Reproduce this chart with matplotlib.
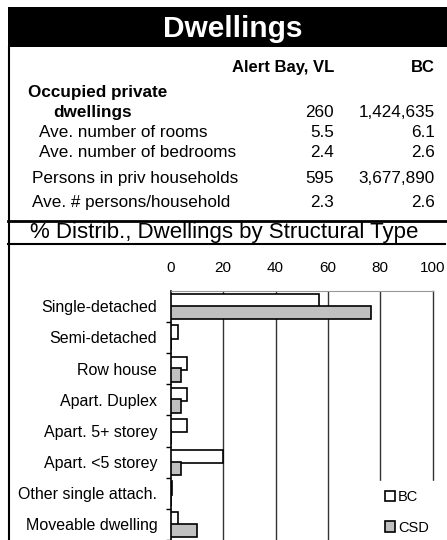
import matplotlib
matplotlib.use("Agg")
import matplotlib.pyplot as plt
from matplotlib.patches import Rectangle, Patch
from matplotlib.lines import Line2D

plt.rcParams['font.family'] = ['Liberation Sans', 'DejaVu Sans']

# table data
row_labels = ["Occupied private", "dwellings", "Ave. number of rooms", "Ave. number of bedrooms",
              "Persons in priv households", "Ave. # persons/household"]
local_vals = ["", "260", "5.5", "2.4", "595", "2.3"]
bc_vals = ["", "1,424,635", "6.1", "2.6", "3,677,890", "2.6"]

# chart data
categories = ["Single-detached", "Semi-detached", "Row house", "Apart. Duplex",
              "Apart. 5+ storey", "Apart. <5 storey", "Other single attach.", "Moveable dwelling"]
bc_pct = [56.5, 2.9, 6.1, 6.1, 6.4, 19.9, 0.4, 2.9]
csd_pct = [76.5, 0, 3.9, 3.9, 0, 3.9, 0, 9.9]
x_ticks = [0, 20, 40, 60, 80, 100]

W, H = 447, 540
fig = plt.figure(figsize=(W / 100, H / 100), dpi=100)

def fx(px):
    return px / W

def fy(py):
    return 1 - py / H

# header
fig.patches.append(Rectangle((fx(8), fy(47)), fx(W - 8), 40 / H, transform=fig.transFigure,
                             facecolor="black", edgecolor="none"))
fig.text(fx(232.5), fy(37), "Dwellings", color="white", fontsize=21.5, fontweight="bold",
         ha="center", va="baseline")

# frame lines
fig.lines.append(Line2D([fx(8.5), fx(8.5)], [fy(47), 0], transform=fig.transFigure, color="black", lw=1.5))
fig.lines.append(Line2D([fx(8), 1], [fy(220.5), fy(220.5)], transform=fig.transFigure, color="black", lw=2))
fig.lines.append(Line2D([fx(8), fx(445)], [fy(244), fy(244)], transform=fig.transFigure, color="black", lw=1.5))

# table
fig.text(fx(334), fy(71.7), "Alert Bay, VL", fontsize=12, fontweight="bold", ha="right", va="baseline")
fig.text(fx(435), fy(71.7), "BC", fontsize=12, fontweight="bold", ha="right", va="baseline")
row_y = [97, 117.3, 137.3, 156.7, 182.7, 206.7]
row_x = [28.3, 53.3, 39.3, 39.3, 31.7, 31.7]
for i, lab in enumerate(row_labels):
    bold = "bold" if i < 2 else "normal"
    fig.text(fx(row_x[i]), fy(row_y[i]), lab, fontsize=12.3, fontweight=bold, ha="left", va="baseline")
    fig.text(fx(334), fy(row_y[i]), local_vals[i], fontsize=12.3, ha="right", va="baseline")
    fig.text(fx(435), fy(row_y[i]), bc_vals[i], fontsize=12.3, ha="right", va="baseline")

fig.text(fx(224), fy(232.5), "% Distrib., Dwellings by Structural Type", fontsize=16,
         ha="center", va="center")

# bar chart
ax = fig.add_axes([fx(170.7), 0, fx(432.7) - fx(170.7), fy(290.7)])
n = len(categories)
pos = list(range(n))
h = 0.43
ax.barh([p - 0.17 for p in pos], bc_pct, height=h, color="white", edgecolor="black", lw=1.2, label="BC", zorder=3)
ax.barh([p + 0.2 for p in pos], csd_pct, height=h, color="#c0c0c0", edgecolor="black", lw=1.2, label="CSD", zorder=3)

ax.set_xlim(0, 100)
ax.set_ylim(n - 0.5, -0.5)
ax.set_xticks(x_ticks)
ax.xaxis.tick_top()
ax.tick_params(axis="x", length=0, pad=11, labelsize=11)
ax.set_yticks(pos)
ax.set_yticklabels(categories)
ax.tick_params(axis="y", which="major", length=0, pad=9.6, labelsize=11.5)
ax.set_yticks([p + 0.5 for p in pos], minor=True)
ax.tick_params(axis="y", which="minor", length=3.6, width=1, direction="out")
for g in x_ticks[1:-1]:
    ax.axvline(g, color="#333333", lw=1, zorder=1)
ax.spines["bottom"].set_visible(False)
ax.spines["right"].set_color("#333333")
ax.spines["right"].set_linewidth(1)
ax.spines["top"].set_color("#999999")
ax.spines["left"].set_linewidth(1.2)

leg = ax.legend(handles=[Patch(facecolor="white", edgecolor="black", lw=1.2, label="BC"),
                         Patch(facecolor="#c0c0c0", edgecolor="black", lw=1.2, label="CSD")],
                loc="upper left", bbox_to_anchor=(fx(376), fy(481)), bbox_transform=fig.transFigure,
                frameon=True, facecolor="white", edgecolor="white", framealpha=1, fancybox=False,
                fontsize=10.5, handlelength=0.7, handleheight=0.7, handletextpad=0.2,
                labelspacing=1.15, borderpad=0.6, borderaxespad=0)
leg.set_zorder(5)

fig.savefig("out.png", dpi=100)
